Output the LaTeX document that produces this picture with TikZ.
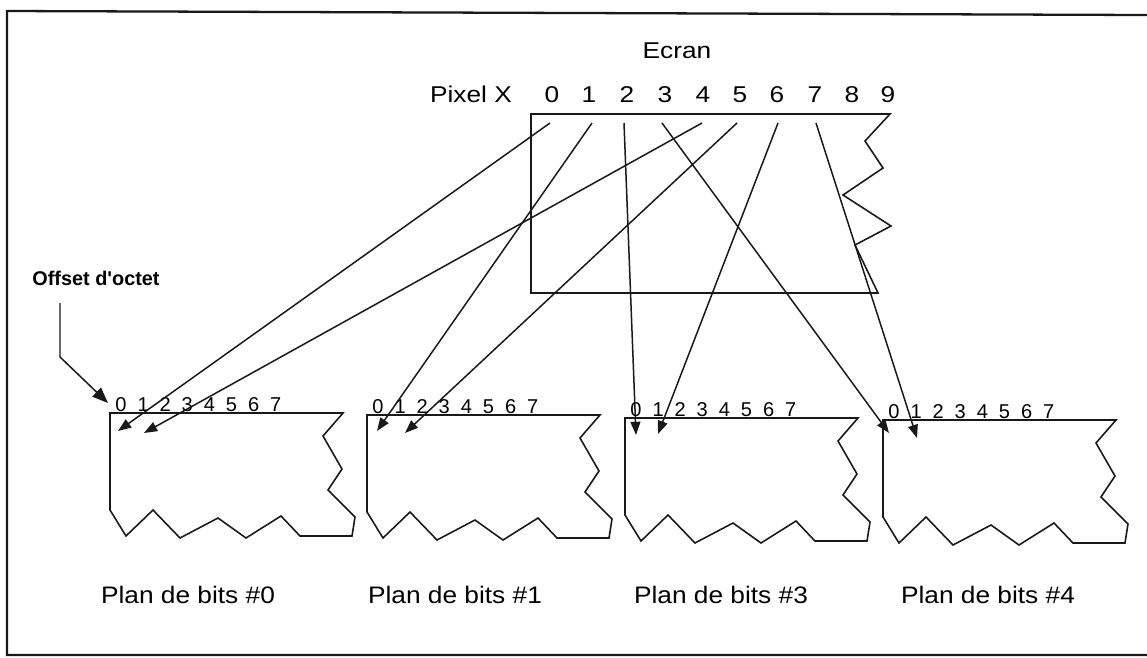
\documentclass[tikz,border=0pt]{standalone}
\usepackage{fontspec}
\setmainfont{Liberation Sans}
\newfontfamily\widefont[FakeStretch=1.15]{Liberation Sans}
\newfontfamily\planfont[FakeStretch=1.1]{Liberation Sans}
\newfontfamily\offfont[Ligatures=ResetAll]{Liberation Sans}
\usetikzlibrary{arrows.meta}
\tikzset{
  frameline/.style={line width=1.3pt, draw=black!90},
  shapeline/.style={line width=0.9pt, draw=black!90},
  ptr/.style={line width=0.85pt, draw=black!90, -{Triangle[length=7.5pt,width=5.6pt]}},
  toplbl/.style={anchor=base, inner sep=0pt, font=\widefont\fontsize{13pt}{15pt}\selectfont},
  bitlbl/.style={anchor=base, inner sep=0pt, font=\fontsize{11.4pt}{13pt}\selectfont},
  planlbl/.style={anchor=base, inner sep=0pt, font=\planfont\fontsize{13.6pt}{16pt}\selectfont},
  offlbl/.style={anchor=base, inner sep=0pt, font=\offfont\bfseries\fontsize{11.3pt}{13pt}\selectfont},
}
\begin{document}
\begin{tikzpicture}[x=0.02cm,y=-0.02cm]
\useasboundingbox (0,0) rectangle (1147,657);
% outer frame
\draw[frameline] (1147,15) -- (7,11) -- (7,655) -- (1147,655);

% Ecran
\node[toplbl] (ecran) at (677,58) {Ecran};
\node[toplbl] (pixx) at (471,102) {Pixel X};
\foreach \k/\xx in {0/552,1/589,2/627,3/665,4/703,5/740,6/777,7/815,8/852,9/888}
  \node[toplbl] (px\k) at (\xx,102) {\k};
\draw[shapeline] (531,114) -- (890,114) -- (865,141) -- (883,168) -- (843,195)
  -- (891,226) -- (855,245) -- (878,293) -- (531,293) -- cycle;

% bit planes
\foreach \i/\x/\y/\lx in {0/110/413/188, 1/367/415/455, 3/625/418/721, 4/883/420/988}{
  \begin{scope}[shift={(\x,\y)}]
    \draw[shapeline] (0,0) -- (233,0) -- (213,23) -- (232,56) -- (218,77) -- (245,104)
      -- (242,123) -- (190,123) -- (171,103) -- (136,125) -- (108,105) -- (70,125)
      -- (43,97) -- (16,123) -- (0,97) -- cycle;
    \foreach \k in {0,...,7}
      \node[bitlbl] (b\i\k) at (11+22.1*\k,-1.5) {\k};
  \end{scope}
  \node[planlbl] (plan\i) at (\lx,603) {Plan de bits \#\i};
}

% start points under pixel labels
\foreach \k/\xx in {0/550,1/592,2/624,3/662,4/702,5/737,6/778,7/816}
  \coordinate (s\k) at (\xx,123);
% target points in bit planes
\coordinate (t00) at (118,431);
\coordinate (t01) at (144,433);
\coordinate (t10) at (377,431);
\coordinate (t11) at (405,433);
\coordinate (t30) at (636,435);
\coordinate (t31) at (658,434);
\coordinate (t40) at (889,433);
\coordinate (t41) at (917,438);

\draw[ptr] (s0) -- (t00);
\draw[ptr] (s1) -- (t10);
\draw[ptr] (s2) -- (t30);
\draw[ptr] (s3) -- (t40);
\draw[ptr] (s4) -- (t01);
\draw[ptr] (s5) -- (t11);
\draw[ptr] (s6) -- (t31);
\draw[ptr] (s7) -- (t41);

% offset label
\node[offlbl] (off) at (96,285) {Offset d'octet};
\coordinate (o1) at (60,303);
\coordinate (o2) at (60,357);
\coordinate (o3) at (108,403);
\draw[ptr, -{Triangle[length=9pt,width=7pt]}] (o1) -- (o2) -- (o3);
\end{tikzpicture}
\end{document}
